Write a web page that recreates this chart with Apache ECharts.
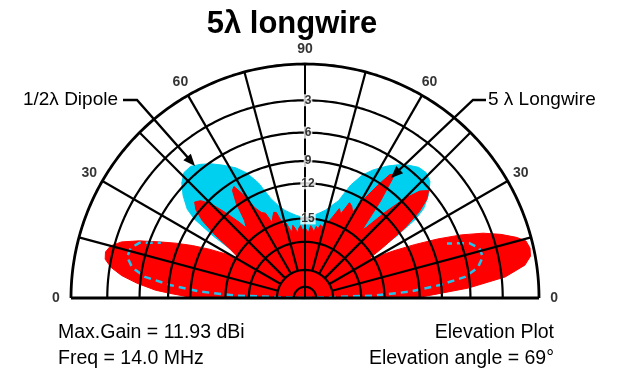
<!DOCTYPE html>
<html><head><meta charset="utf-8">
<script src="https://cdn.jsdelivr.net/npm/echarts@6/dist/echarts.min.js"></script>
<style>html,body{margin:0;padding:0;background:#fff}#c{width:621px;height:372px}</style>
</head><body><div id="c"></div>
<script>
// ---- data ----
const titleText = '5λ longwire';
const angleTicks = [0, 30, 60, 90, 120, 150, 180];
const angleTickLabels = ['0', '30', '60', '90', '60', '30', '0'];
const ringRadii = [1, 0.845, 0.707, 0.585, 0.49, 0.34, 0.24, 0.12, 0.048];
const ringLabels = ['', '3', '6', '9', '12', '15', '', '', ''];
const spokeAngles = [15, 30, 45, 60, 75, 105, 120, 135, 150, 165];
// angle: 0 = left horizon, 90 = zenith, 180 = right horizon; r = radius on plot scale (outer ring = 1)
const longwireAngle = [0,1,2,3,5,7,9,11,13,15,17,19,21,23,25,27,29,31,33,35,37,39,41,43,45,47,49,50,52,54,56,57.5,59,61,63,65,66.5,68,70,71.5,73,74.5,76,77.5,79,80.5,82,83.5,85,86.5,88,90,
  91.5,93,94.5,96,97.5,99,100.5,102,103.5,105,107,109,111,113,115,117,119,121,123,124.5,126,128,130,131,133,135,137,139,141,143,145,147,148.5,150,152,154,156,158,160,162,164,165.5,167.5,169.5,171.5,174,176.5,178.5,180];
const longwireR = [0.47,0.52,0.58,0.64,0.72,0.79,0.84,0.87,0.875,0.86,0.82,0.75,0.67,0.6,0.53,0.46,0.39,0.33,0.38,0.47,0.55,0.6,0.625,0.61,0.57,0.5,0.43,0.39,0.42,0.5,0.555,0.565,0.52,0.44,0.41,0.4,0.35,0.37,0.39,0.385,0.34,0.31,0.33,0.3,0.29,0.315,0.3,0.28,0.3,0.31,0.29,0.3,
  0.29,0.28,0.31,0.3,0.285,0.31,0.3,0.32,0.31,0.33,0.34,0.37,0.41,0.39,0.45,0.44,0.42,0.5,0.58,0.64,0.655,0.52,0.38,0.4,0.5,0.6,0.67,0.7,0.67,0.61,0.52,0.4,0.32,0.35,0.43,0.52,0.62,0.72,0.81,0.88,0.94,0.975,0.985,0.98,0.95,0.86,0.7,0.55,0.47];
const dipoleAngle = [0,2,3.5,5.5,7.5,10,13,16,18.5,21,23,25,27,29,31,32.5,34,35.5,37,40,43,46,49,52,55,58,62,65,68,71,74,77,80,84,87,90,
  93,96,100,103,106,109,112,115,118,122,125,128,131,134,137,140,143,144.5,146,147.5,149,151,153,155,157,159,161.5,164,167,170,172.5,174.5,176.5,178,180];
const dipoleR = [0,0.3,0.45,0.58,0.69,0.75,0.78,0.775,0.745,0.66,0.58,0.5,0.42,0.35,0.3,0.33,0.47,0.58,0.63,0.68,0.72,0.745,0.745,0.725,0.7,0.67,0.63,0.59,0.53,0.45,0.41,0.385,0.37,0.355,0.348,0.346,
  0.348,0.355,0.37,0.385,0.41,0.44,0.52,0.58,0.62,0.665,0.695,0.72,0.74,0.745,0.73,0.69,0.635,0.58,0.47,0.34,0.3,0.35,0.42,0.5,0.58,0.65,0.74,0.775,0.78,0.75,0.69,0.58,0.45,0.3,0];

// ---- build ----
const FONT = '"Liberation Sans", Arial, sans-serif';
const CX = 305, CY = 298, R = 234, RMAX = 1.1;
const pts = (ang, rr) => ang.map((a, i) => [rr[i], a]);
const lwPts = pts(longwireAngle, longwireR);
const dpPts = pts(dipoleAngle, dipoleR);
const series = [];
const base = {type: 'line', coordinateSystem: 'polar', symbol: 'none', silent: true, animation: false, clip: false};
series.push(Object.assign({}, base, {z: 1, data: dpPts, lineStyle: {width: 1, color: '#00d0f0'}, areaStyle: {color: '#00d0f0', opacity: 1}}));
series.push(Object.assign({}, base, {z: 2, data: lwPts, lineStyle: {width: 1, color: '#ff0000'}, areaStyle: {color: '#ff0000', opacity: 1}}));
const dashStyle = {width: 2.5, color: '#22c4ee', type: [7, 5]};
series.push(Object.assign({}, base, {z: 3, data: dpPts.filter(p => p[1] <= 21), lineStyle: dashStyle}));
series.push(Object.assign({}, base, {z: 3, data: dpPts.filter(p => p[1] >= 159).reverse(), lineStyle: dashStyle}));
const circ = [];
for (let a = 0; a <= 180; a += 1) circ.push(a);
ringRadii.forEach((r, i) => {
  series.push(Object.assign({}, base, {z: 4, data: circ.map(a => [r, a]), lineStyle: {width: i === 0 ? 2.8 : 2.2, color: '#000'}}));
});
spokeAngles.forEach(a => {
  series.push(Object.assign({}, base, {z: 4, data: [[ringRadii[7], a], [1, a]], lineStyle: {width: 2.2, color: '#000'}}));
});
series.push(Object.assign({}, base, {z: 4, data: [[0, 90], [1, 90]], lineStyle: {width: 2, color: '#000'}}));
series.push(Object.assign({}, base, {z: 4, data: [[1, 0], [0, 0], [1, 180]], lineStyle: {width: 2.8, color: '#000'}}));
// angle labels
series.push({type: 'scatter', coordinateSystem: 'polar', z: 6, symbolSize: 0, silent: true, animation: false,
  data: angleTicks.map(a => [1.065, a]),
  label: {show: true, position: 'inside', formatter: p => angleTickLabels[p.dataIndex], color: '#000', fontWeight: 'bold', fontSize: 14, fontFamily: FONT}});
// ring labels
const shownRingLabels = ringLabels.filter(t => t !== '');
series.push({type: 'scatter', coordinateSystem: 'polar', z: 6, symbolSize: 0, silent: true, animation: false,
  data: ringRadii.map(r => [r, 90]).filter((p, i) => ringLabels[i] !== ''),
  label: {show: true, position: 'inside', offset: [3, 0], formatter: p => shownRingLabels[p.dataIndex], color: '#000', fontWeight: 'bold', fontSize: 12, fontFamily: FONT, backgroundColor: '#fff', padding: [0, 1]}});

function arrowHead(x0, y0, x1, y1, len, hw) {
  const dx = x1 - x0, dy = y1 - y0, L = Math.hypot(dx, dy);
  const ux = dx / L, uy = dy / L;
  const bx = x1 - ux * len, by = y1 - uy * len;
  return [[x1, y1], [bx - uy * hw, by + ux * hw], [bx + uy * hw, by - ux * hw]];
}
const txt = (x, y, text, size, align, weight) => ({type: 'text', x, y, z: 10, silent: true,
  style: {text, fontSize: size, fontFamily: FONT, fontWeight: weight || 'normal', fill: '#000', align, verticalAlign: 'middle'}});
const graphic = [
  txt(292, 24, titleText, 31, 'center', 'bold'),
  txt(118, 100, '1/2λ Dipole', 19, 'right'),
  txt(488, 100, '5 λ Longwire', 19, 'left'),
  txt(58, 333, 'Max.Gain = 11.93 dBi', 19.5, 'left'),
  txt(58, 359, 'Freq = 14.0 MHz', 19.5, 'left'),
  txt(554, 333, 'Elevation Plot', 19.5, 'right'),
  txt(554, 359, 'Elevation angle = 69°', 19.5, 'right'),
  {type: 'polyline', z: 10, silent: true, shape: {points: [[123, 100], [137, 100], [190, 160]]}, style: {stroke: '#000', lineWidth: 2.4, fill: null}},
  {type: 'polygon', z: 10, silent: true, shape: {points: arrowHead(137, 100, 195, 166, 12, 5)}, style: {fill: '#000'}},
  {type: 'polyline', z: 10, silent: true, shape: {points: [[486, 100], [473, 100], [396, 173]]}, style: {stroke: '#000', lineWidth: 2.4, fill: null}},
  {type: 'polygon', z: 10, silent: true, shape: {points: arrowHead(473, 100, 391, 178, 12, 5)}, style: {fill: '#000'}}
];

const chart = echarts.init(document.getElementById('c'), null, {renderer: 'canvas'});
chart.setOption({
  animation: false,
  backgroundColor: '#fff',
  polar: {center: [CX, CY], radius: R * RMAX},
  angleAxis: {type: 'value', min: 0, max: 360, startAngle: 180, clockwise: true, show: false},
  radiusAxis: {type: 'value', min: 0, max: RMAX, show: false},
  series,
  graphic
});
</script></body></html>
